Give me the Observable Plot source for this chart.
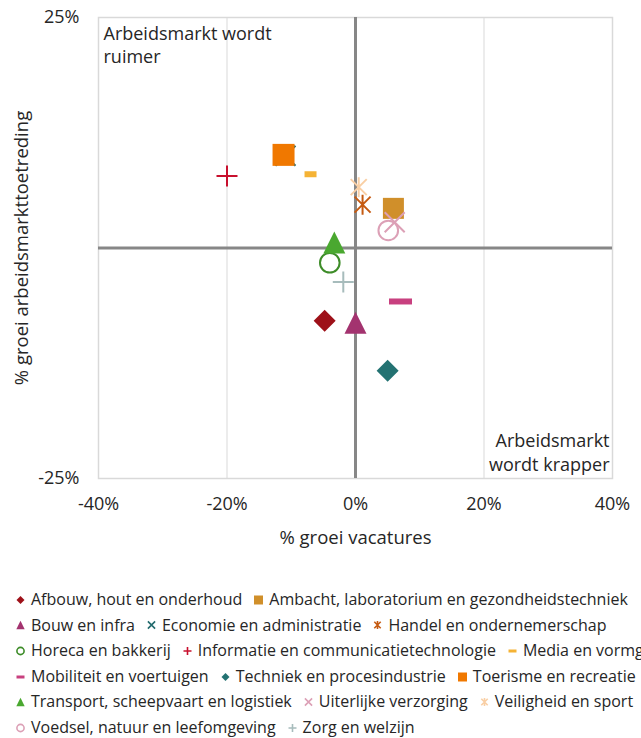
<!DOCTYPE html>
<html><head><meta charset="utf-8">
<script src="https://cdn.jsdelivr.net/npm/d3@7"></script>
<script src="https://cdn.jsdelivr.net/npm/@observablehq/plot@0.6"></script>
<style>
body{margin:0;background:#fff;font-family:"Open Sans",sans-serif;width:641px;overflow:hidden;}
#legend{margin-top:27px;font-size:16px;color:#262626;white-space:nowrap;width:720px}
.row{height:25.6px;line-height:25.6px;padding-left:16px;}
.item{display:inline-flex;align-items:center;margin-right:12px;vertical-align:top;height:25.6px}
.item svg{margin-right:6px;overflow:visible}
</style></head><body>
<div id="chart"></div><div id="legend"></div>
<script>
// ---- data ----
const categories = [
  "Afbouw, hout en onderhoud",
  "Ambacht, laboratorium en gezondheidstechniek",
  "Bouw en infra",
  "Economie en administratie",
  "Handel en ondernemerschap",
  "Horeca en bakkerij",
  "Informatie en communicatietechnologie",
  "Media en vormgeving",
  "Mobiliteit en voertuigen",
  "Techniek en procesindustrie",
  "Toerisme en recreatie",
  "Transport, scheepvaart en logistiek",
  "Uiterlijke verzorging",
  "Veiligheid en sport",
  "Voedsel, natuur en leefomgeving",
  "Zorg en welzijn"
];
const groeiVacatures = [-4.8, 5.9, 0.0, -10.9, 1.1, -4.0, -20.0, -7.0, 7.0, 5.0, -11.2, -3.3, 6.1, 0.5, 5.1, -1.9];
const groeiToetreding = [-7.9, 4.3, -8.1, 10.0, 4.7, -1.6, 7.8, 8.0, -5.8, -13.3, 10.1, 0.6, 2.8, 6.6, 1.9, -3.7];
const xTicks = [-40, -20, 0, 20, 40];
const yTicks = [-25, 25];
const legendRows = [[0, 1], [2, 3, 4], [5, 6, 7], [8, 9, 10], [11, 12, 13], [14, 15]];

// ---- styles ----
const seriesStyle = [
  {shape: "diamond", color: "#9e1119", filled: true, a: 11},
  {shape: "square", color: "#d08f2a", filled: true, a: 10.5},
  {shape: "triangle", color: "#a3336f", filled: true, a: 11},
  {shape: "times", color: "#236b6e", filled: false, a: 10},
  {shape: "asterisk", color: "#c55a11", filled: false, a: 10},
  {shape: "circle", color: "#3d8c28", filled: false, a: 9.8},
  {shape: "plus", color: "#c8102e", filled: false, a: 10.5},
  {shape: "dash", color: "#f5b335", filled: true, a: 6, b: 3},
  {shape: "dash", color: "#c8407f", filled: true, a: 11.5, b: 3},
  {shape: "diamond", color: "#237272", filled: true, a: 11},
  {shape: "square", color: "#f07800", filled: true, a: 11},
  {shape: "triangle", color: "#4aa830", filled: true, a: 11},
  {shape: "times", color: "#dca0b6", filled: false, a: 10},
  {shape: "asterisk", color: "#f9cfa5", filled: false, a: 10},
  {shape: "circle", color: "#dca0b6", filled: false, a: 9.8},
  {shape: "plus", color: "#a7bcbc", filled: false, a: 10.5}
];

function makeSymbol(shape, a, b) {
  return {draw(ctx) {
    switch (shape) {
      case "square": ctx.rect(-a, -a, 2 * a, 2 * a); break;
      case "diamond": ctx.moveTo(0, -a); ctx.lineTo(a, 0); ctx.lineTo(0, a); ctx.lineTo(-a, 0); ctx.closePath(); break;
      case "triangle": ctx.moveTo(0, -a); ctx.lineTo(a, a); ctx.lineTo(-a, a); ctx.closePath(); break;
      case "circle": ctx.moveTo(a, 0); ctx.arc(0, 0, a, 0, 2 * Math.PI); break;
      case "plus": ctx.moveTo(-a, 0); ctx.lineTo(a, 0); ctx.moveTo(0, -a); ctx.lineTo(0, a); break;
      case "times": ctx.moveTo(-a, -a); ctx.lineTo(a, a); ctx.moveTo(-a, a); ctx.lineTo(a, -a); break;
      case "asterisk": ctx.moveTo(-a * 0.8, -a * 0.8); ctx.lineTo(a * 0.8, a * 0.8); ctx.moveTo(-a * 0.8, a * 0.8); ctx.lineTo(a * 0.8, -a * 0.8); ctx.moveTo(0, -a); ctx.lineTo(0, a); break;
      case "dash": ctx.rect(-a, -b, 2 * a, 2 * b); break;
    }
  }};
}

const rows = categories.map((c, i) => ({cat: c, x: groeiVacatures[i], y: groeiToetreding[i]}));

const dotMarks = rows.map((d, i) => {
  const s = seriesStyle[i];
  return Plot.dot([d], {
    x: "x", y: "y", r: 5,
    symbol: makeSymbol(s.shape, s.a, s.b),
    fill: s.filled ? s.color : "none",
    stroke: s.filled ? "none" : s.color,
    strokeWidth: 2
  });
});

const chart = Plot.plot({
  width: 641,
  height: 560,
  marginLeft: 98,
  marginRight: 29,
  marginTop: 17,
  marginBottom: 82,
  style: {fontFamily: "Open Sans", fontSize: "18px", color: "#262626", background: "#fff"},
  x: {domain: [-40, 40]},
  y: {domain: [-25, 25]},
  marks: [
    Plot.ruleX([-20, 20], {stroke: "#d9d9d9", strokeWidth: 1}),
    Plot.frame({stroke: "#d9d9d9", strokeWidth: 1.5}),
    Plot.ruleY([0], {stroke: "#878787", strokeWidth: 3}),
    Plot.ruleX([0], {stroke: "#878787", strokeWidth: 3}),
    ...dotMarks,
    Plot.axisX(xTicks, {tickSize: 0, tickPadding: 19, tickFormat: d => `${d}%`, label: null}),
    Plot.axisY(yTicks, {tickSize: 0, tickPadding: 19, tickFormat: d => `${d}%`, label: null}),
    Plot.text(["% groei vacatures"], {frameAnchor: "bottom", dy: 60, lineAnchor: "middle", fill: "#262626", fontSize: 18.5}),
    Plot.text(["% groei arbeidsmarkttoetreding"], {frameAnchor: "left", dx: -76, rotate: -90, textAnchor: "middle", lineAnchor: "middle", fill: "#262626", fontSize: 18.5}),
    Plot.text(["Arbeidsmarkt wordt\nruimer"], {frameAnchor: "top-left", dx: 5, dy: 5, textAnchor: "start", lineAnchor: "top", lineHeight: 1.33, fill: "#262626"}),
    Plot.text(["Arbeidsmarkt\nwordt krapper"], {frameAnchor: "bottom-right", dx: -3, dy: -8, textAnchor: "end", lineAnchor: "bottom", lineHeight: 1.3, fill: "#262626"})
  ]
});
document.getElementById("chart").appendChild(chart);

// ---- legend ----
const legendSize = {square: 4.5, diamond: 4, triangle: 4.2, times: 3.6, asterisk: 4, circle: 3.6, plus: 4, dash: 4};
const legend = d3.select("#legend");
legendRows.forEach(r => {
  const row = legend.append("div").attr("class", "row");
  r.forEach(i => {
    const s = seriesStyle[i];
    const item = row.append("span").attr("class", "item");
    const svg = item.append("svg").attr("width", 9).attr("height", 10).attr("viewBox", "-4.5 -5 9 10");
    const p = d3.path();
    makeSymbol(s.shape, legendSize[s.shape], 1.5).draw(p);
    svg.append("path").attr("d", p.toString())
      .attr("fill", s.filled ? s.color : "none")
      .attr("stroke", s.filled ? "none" : s.color)
      .attr("stroke-width", 1.6);
    item.append("span").text(categories[i]);
  });
});
</script>
</body></html>
